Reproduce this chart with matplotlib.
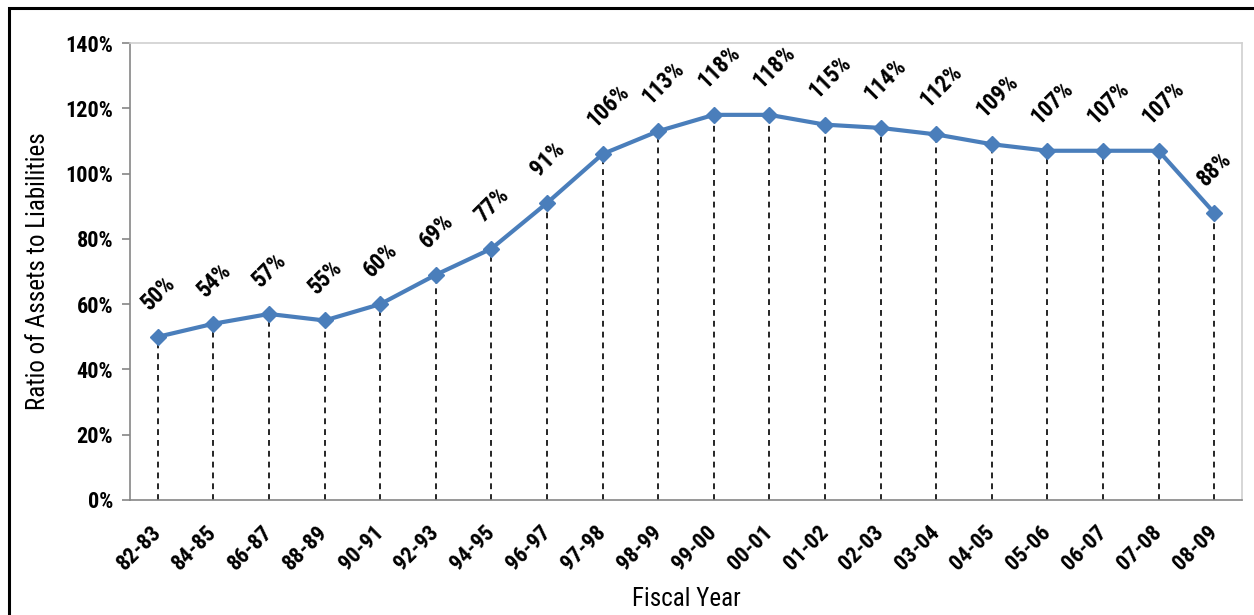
import matplotlib
matplotlib.use('Agg')
import matplotlib.pyplot as plt
from matplotlib.patches import Rectangle
from matplotlib.ticker import FuncFormatter

# funding ratio by fiscal year
years = ['82-83', '84-85', '86-87', '88-89', '90-91', '92-93', '94-95', '96-97', '97-98', '98-99',
         '99-00', '00-01', '01-02', '02-03', '03-04', '04-05', '05-06', '06-07', '07-08', '08-09']
ratios = [50, 54, 57, 55, 60, 69, 77, 91, 106, 113, 118, 118, 115, 114, 112, 109, 107, 107, 107, 88]

narrow = ['Roboto Condensed', 'DejaVu Sans']
lineColor = '#4a7ebb'

fig = plt.figure(figsize=(12.54, 6.15), dpi=100)
ax = fig.add_axes([0.1037, 0.187, 0.8867, 0.743])

xs = list(range(len(years)))
ax.vlines(xs, 0, ratios, colors='black', linestyles=(0, (3.5, 3)), linewidth=1.2, zorder=1)
ax.plot(xs, ratios, color=lineColor, linewidth=3, marker='D', markersize=8, zorder=3)

for x, v in zip(xs, ratios):
    ax.annotate('%d%%' % v, (x, v), xytext=(-9, 22), textcoords='offset points',
                rotation=45, ha='left', va='center', rotation_mode='anchor',
                fontsize=16.5, fontweight='bold', family=narrow)

ax.set_xlim(-0.5, len(years) - 0.5)
ax.set_ylim(0, 140)
ax.set_yticks(range(0, 141, 20))
ax.yaxis.set_major_formatter(FuncFormatter(lambda v, p: '%d%%' % v))
ax.set_xticks(xs)
ax.set_xticklabels(years, rotation=45, ha='right', va='center', rotation_mode='anchor')
ax.tick_params(axis='x', length=0, pad=21)
ax.tick_params(axis='y', length=6, color='#868686', width=1.2, pad=6)
for lbl in ax.get_xticklabels() + ax.get_yticklabels():
    lbl.set_fontsize(16)
    lbl.set_fontweight('bold')
    lbl.set_family(narrow)

for side in ['left', 'bottom']:
    ax.spines[side].set_color('#868686')
    ax.spines[side].set_linewidth(1.2)
for side in ['top', 'right']:
    ax.spines[side].set_color('#d0d0d0')
    ax.spines[side].set_linewidth(1.2)

ax.set_ylabel('Ratio of Assets to Liabilities', fontsize=18, family=narrow, va='center')
ax.yaxis.set_label_coords(-0.0827, 0.5)
ax.set_xlabel('Fiscal Year', fontsize=18, family=narrow, va='top')
ax.xaxis.set_label_coords(0.5, -0.19)

# outer frame around the chart
fig.patches.append(Rectangle((9 / 1254, -0.1), 1.2, 1 - 8 / 615 + 0.1, transform=fig.transFigure,
                             fill=False, edgecolor='black', linewidth=2.2))

fig.savefig('out.png', dpi=100)
